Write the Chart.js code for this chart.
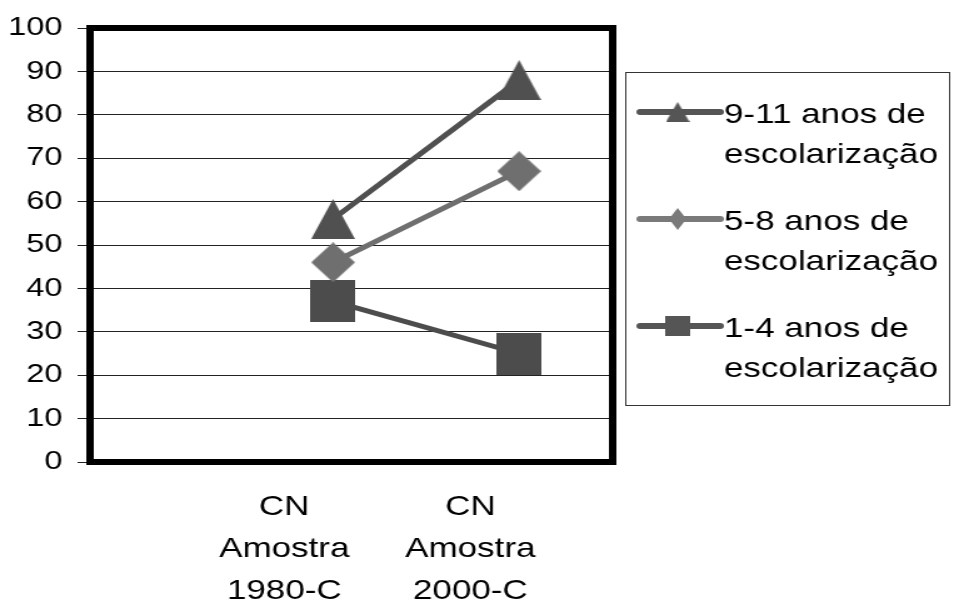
<!DOCTYPE html>
<html>
<head>
<meta charset="utf-8">
<script src="https://cdn.jsdelivr.net/npm/chart.js@4"></script>
<style>
html, body { margin: 0; padding: 0; background: #fff; }
</style>
</head>
<body>
<!-- the reference is stretched horizontally, so the canvas is drawn narrow and widened by its inline style -->
<canvas id="chart" width="763" height="605" style="display:block;width:954px;height:605px"></canvas>
<script>
var categories = [['CN', 'Amostra', '1980-C'], ['CN', 'Amostra', '2000-C']];
var seriesNames = [['9-11 anos de', 'escolarização'], ['5-8 anos de', 'escolarização'], ['1-4 anos de', 'escolarização']];
var anos9a11 = [56, 88];
var anos5a8 = [46, 67];
var anos1a4 = [37, 25];
var yTickValues = [0, 10, 20, 30, 40, 50, 60, 70, 80, 90, 100];

var FONT = "'Liberation Sans', Arial, sans-serif";

function marker(shape, w, h, color) {
    var c = document.createElement('canvas');
    c.width = w;
    c.height = h;
    var g = c.getContext('2d');
    g.fillStyle = color;
    g.beginPath();
    if (shape === 'triangle') {
        g.moveTo(w / 2, 0); g.lineTo(w, h); g.lineTo(0, h);
    } else if (shape === 'diamond') {
        g.moveTo(w / 2, 0); g.lineTo(w, h / 2); g.lineTo(w / 2, h); g.lineTo(0, h / 2);
    } else {
        g.rect(0, 0, w, h);
    }
    g.closePath();
    g.fill();
    return c;
}

function toPoints(values) {
    return values.map(function (v, i) { return { x: i, y: v }; });
}

var colors = ['#505050', '#6f6f6f', '#4c4c4c'];
var legendColors = ['#555555', '#7a7a7a', '#555555'];
var shapes = ['triangle', 'diamond', 'square'];
var bigSize = [[35, 40], [35, 40], [36, 42]];
var smallSize = [[19, 20], [14, 22], [20, 20]];

var allSeries = [anos9a11, anos5a8, anos1a4];
var datasets = allSeries.map(function (vals, i) {
    return {
        label: seriesNames[i].join(' '),
        data: toPoints(vals),
        borderColor: colors[i],
        backgroundColor: colors[i],
        borderWidth: 5,
        pointStyle: marker(shapes[i], bigSize[i][0], bigSize[i][1], colors[i]),
        pointRadius: 5,
        tension: 0
    };
});

// thick frame around the plot area
var framePlugin = {
    id: 'frame',
    afterDraw: function (chart) {
        var a = chart.chartArea, ctx = chart.ctx;
        ctx.save();
        ctx.strokeStyle = '#000';
        ctx.lineWidth = 6;
        ctx.strokeRect(a.left, a.top, a.right - a.left, a.bottom - a.top);
        ctx.restore();
    }
};

// legend in a box with two-line labels
var legendPlugin = {
    id: 'boxLegend',
    afterDraw: function (chart) {
        var ctx = chart.ctx;
        ctx.save();
        ctx.strokeStyle = '#333';
        ctx.lineWidth = 1;
        ctx.strokeRect(500.5, 72.5, 259, 333);
        for (var i = 0; i < seriesNames.length; i++) {
            var base = 123 + 107 * i;
            var ly = base - 11;
            ctx.strokeStyle = legendColors[i];
            ctx.lineWidth = 6;
            ctx.lineCap = 'round';
            ctx.beginPath();
            ctx.moveTo(512, ly);
            ctx.lineTo(576, ly);
            ctx.stroke();
            var m = marker(shapes[i], smallSize[i][0], smallSize[i][1], legendColors[i]);
            ctx.drawImage(m, 542 - m.width / 2, ly - m.height / 2);
            ctx.fillStyle = '#000';
            ctx.font = '28px ' + FONT;
            ctx.textBaseline = 'alphabetic';
            ctx.textAlign = 'left';
            ctx.fillText(seriesNames[i][0], 579, base);
            ctx.fillText(seriesNames[i][1], 579, base + 40);
        }
        ctx.restore();
    }
};

new Chart(document.getElementById('chart'), {
    type: 'line',
    data: { datasets: datasets },
    options: {
        responsive: false,
        animation: false,
        events: [],
        layout: { padding: { top: 28, right: 273, bottom: 0, left: 0 } },
        plugins: { legend: { display: false }, tooltip: { enabled: false } },
        scales: {
            x: {
                type: 'linear',
                min: -1.306,
                max: 1.503,
                afterBuildTicks: function (axis) {
                    axis.ticks = categories.map(function (c, i) { return { value: i }; });
                },
                afterFit: function (axis) { axis.height = 143; },
                grid: { display: false, drawTicks: false },
                border: { display: false },
                ticks: {
                    autoSkip: false,
                    maxRotation: 0,
                    padding: 24,
                    labelOffset: -39,
                    color: '#000',
                    font: { family: FONT, size: 28, lineHeight: 1.5 },
                    callback: function (v) { return categories[v]; }
                }
            },
            y: {
                min: 0,
                max: 100,
                afterBuildTicks: function (axis) {
                    axis.ticks = yTickValues.map(function (v) { return { value: v }; });
                },
                afterFit: function (axis) { axis.width = 72; },
                grid: { color: '#222', lineWidth: 1, tickLength: 10 },
                border: { display: false },
                ticks: {
                    autoSkip: false,
                    padding: 12,
                    color: '#000',
                    font: { family: FONT, size: 26 }
                }
            }
        }
    },
    plugins: [framePlugin, legendPlugin]
});
</script>
</body>
</html>
